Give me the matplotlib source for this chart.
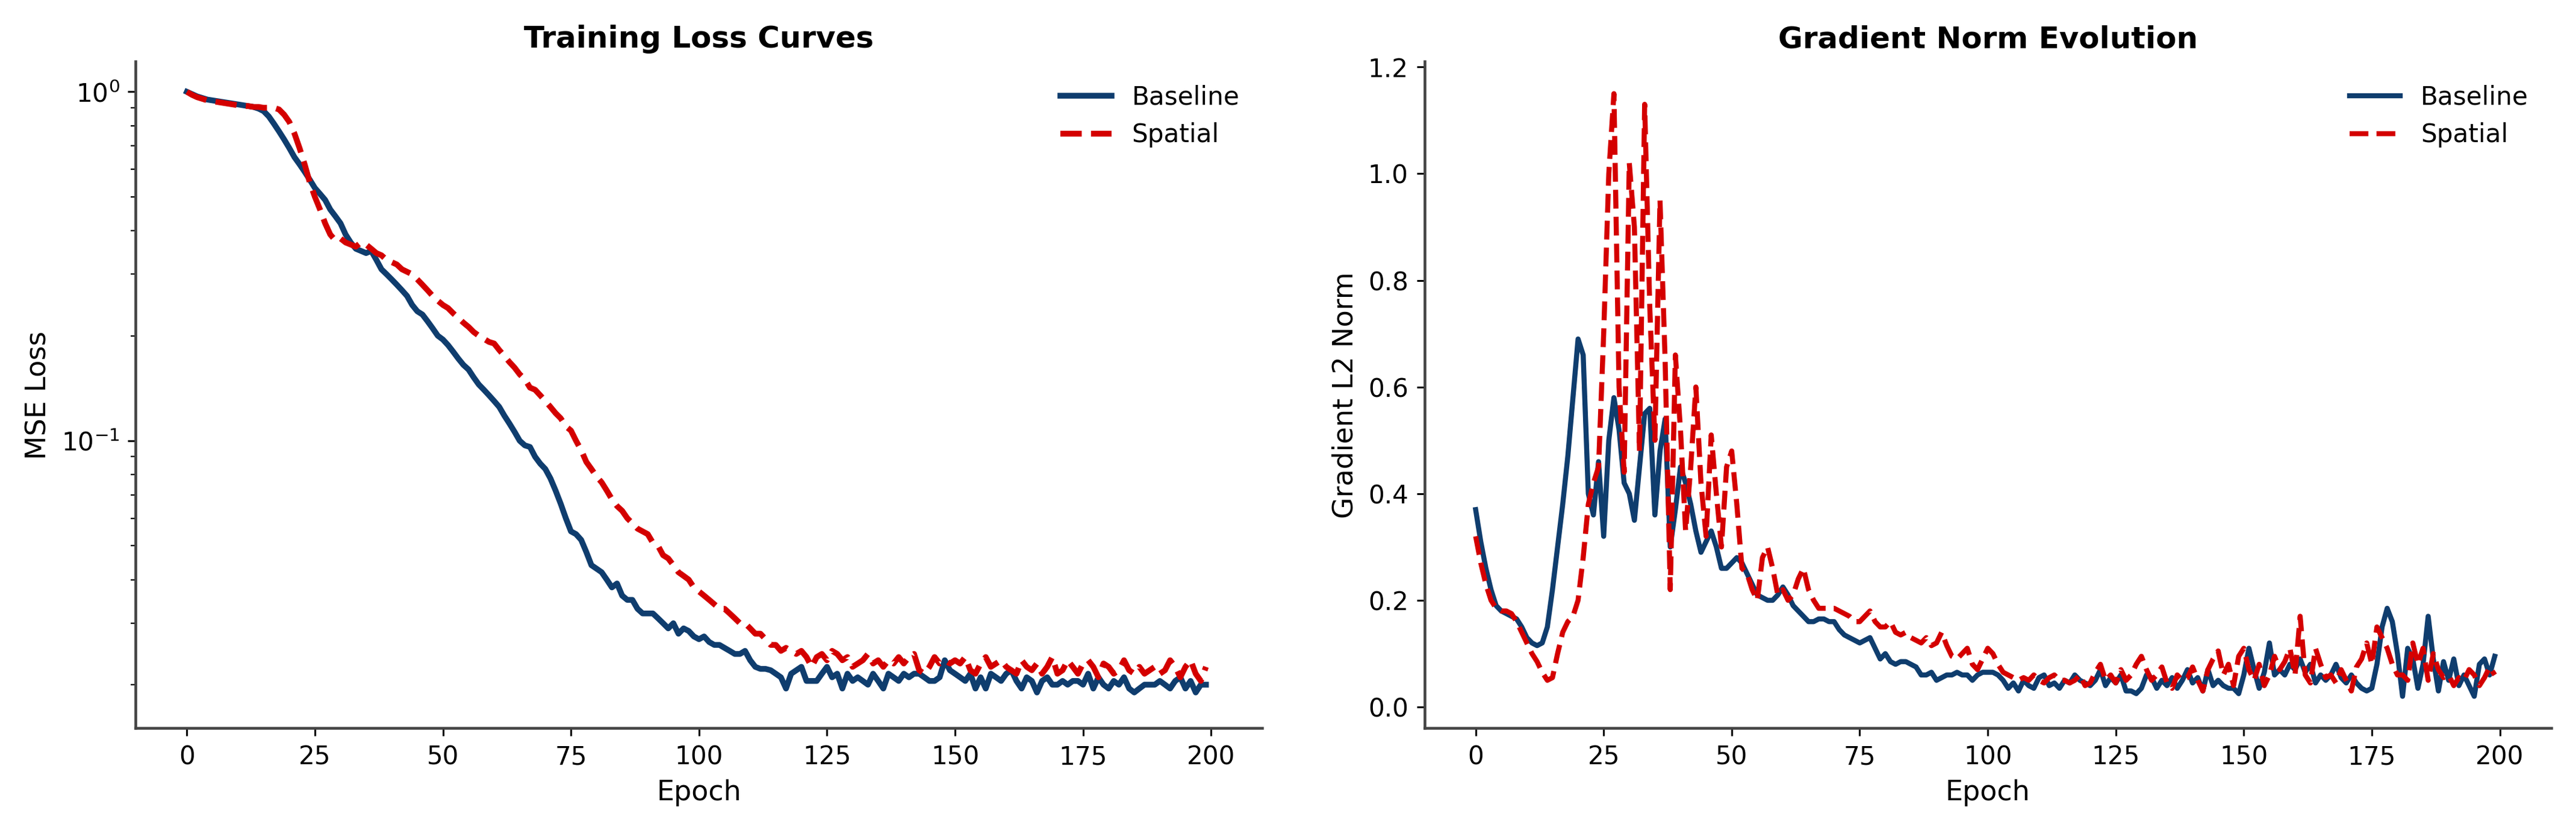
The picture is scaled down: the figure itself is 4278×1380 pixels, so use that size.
import numpy as np
import matplotlib
matplotlib.use("Agg")
import matplotlib.pyplot as plt

epochs = np.arange(200)

# training loss
loss_baseline = [
    1.00, 0.985, 0.97, 0.96, 0.95, 0.945, 0.94, 0.935, 0.93, 0.925,
    0.92, 0.915, 0.91, 0.905, 0.895, 0.88, 0.85, 0.81, 0.77, 0.73,
    0.69, 0.65, 0.62, 0.59, 0.56, 0.53, 0.51, 0.49, 0.46, 0.44,
    0.42, 0.39, 0.37, 0.355, 0.35, 0.345, 0.35, 0.33, 0.31, 0.30,
    0.29, 0.28, 0.27, 0.26, 0.245, 0.235, 0.23, 0.22, 0.21, 0.20,
    0.195, 0.188, 0.18, 0.172, 0.165, 0.16, 0.152, 0.145, 0.14, 0.135,
    0.13, 0.125, 0.118, 0.112, 0.106, 0.10, 0.097, 0.096, 0.09, 0.086,
    0.083, 0.078, 0.072, 0.066, 0.06, 0.055, 0.054, 0.052, 0.048, 0.044,
    0.043, 0.042, 0.040, 0.038, 0.039, 0.036, 0.035, 0.035, 0.033, 0.032,
    0.032, 0.032, 0.031, 0.030, 0.029, 0.030, 0.028, 0.029, 0.0285, 0.0275,
    0.027, 0.0275, 0.0265, 0.026, 0.026, 0.0255, 0.025, 0.0245, 0.0245, 0.025,
    0.0235, 0.0225, 0.0222, 0.0222, 0.022, 0.0215, 0.021, 0.0195, 0.0215, 0.022,
    0.0225, 0.0205, 0.0205, 0.0205, 0.0215, 0.0225, 0.021, 0.0215, 0.0195, 0.0215,
    0.0205, 0.021, 0.0205, 0.02, 0.0215, 0.0205, 0.0195, 0.0215, 0.021, 0.0205,
    0.0215, 0.021, 0.0215, 0.0215, 0.021, 0.0205, 0.0205, 0.021, 0.0235, 0.022,
    0.0215, 0.021, 0.0205, 0.0215, 0.0195, 0.021, 0.0195, 0.0215, 0.021, 0.0205,
    0.0215, 0.022, 0.0205, 0.0195, 0.021, 0.0205, 0.019, 0.0205, 0.021, 0.02,
    0.02, 0.0205, 0.02, 0.0205, 0.0205, 0.02, 0.0215, 0.0195, 0.021, 0.02,
    0.0195, 0.0205, 0.02, 0.021, 0.0195, 0.019, 0.0195, 0.02, 0.02, 0.02,
    0.0205, 0.02, 0.0195, 0.0205, 0.021, 0.0195, 0.0205, 0.019, 0.02, 0.02,
]
loss_spatial = [
    1.00, 0.98, 0.965, 0.955, 0.945, 0.94, 0.935, 0.93, 0.925, 0.92,
    0.915, 0.912, 0.91, 0.905, 0.905, 0.9, 0.9, 0.9, 0.89, 0.86,
    0.82, 0.76, 0.69, 0.62, 0.55, 0.50, 0.46, 0.42, 0.39, 0.375,
    0.38, 0.37, 0.365, 0.36, 0.37, 0.365, 0.355, 0.345, 0.34, 0.33,
    0.325, 0.32, 0.31, 0.305, 0.30, 0.29, 0.28, 0.27, 0.26, 0.252,
    0.245, 0.24, 0.232, 0.225, 0.218, 0.212, 0.205, 0.20, 0.196, 0.192,
    0.19, 0.182, 0.175, 0.168, 0.162, 0.155, 0.15, 0.142, 0.14, 0.135,
    0.13, 0.125, 0.12, 0.116, 0.11, 0.107, 0.10, 0.094, 0.087, 0.083,
    0.079, 0.076, 0.072, 0.068, 0.065, 0.063, 0.06, 0.058, 0.056, 0.055,
    0.054, 0.051, 0.05, 0.047, 0.046, 0.044, 0.042, 0.041, 0.04, 0.038,
    0.037, 0.036, 0.035, 0.034, 0.033, 0.033, 0.032, 0.031, 0.030, 0.030,
    0.029, 0.028, 0.028, 0.027, 0.026, 0.026, 0.025, 0.0255, 0.025, 0.0245,
    0.025, 0.024, 0.0225, 0.024, 0.0245, 0.0235, 0.025, 0.0245, 0.0235, 0.024,
    0.0225, 0.023, 0.0235, 0.0245, 0.023, 0.0235, 0.0225, 0.0235, 0.023, 0.024,
    0.023, 0.024, 0.0245, 0.022, 0.0215, 0.0225, 0.024, 0.023, 0.0235, 0.023,
    0.0235, 0.023, 0.024, 0.022, 0.0215, 0.023, 0.024, 0.0225, 0.023, 0.0235,
    0.0225, 0.022, 0.0215, 0.0235, 0.0225, 0.022, 0.023, 0.0215, 0.0225, 0.024,
    0.0215, 0.022, 0.0235, 0.0225, 0.0215, 0.023, 0.0235, 0.0225, 0.021, 0.023,
    0.0225, 0.0215, 0.022, 0.0235, 0.022, 0.0215, 0.0225, 0.0215, 0.022, 0.0225,
    0.0215, 0.022, 0.0235, 0.0225, 0.021, 0.0225, 0.0235, 0.0215, 0.0205, 0.0225,
]

# gradient L2 norm
grad_baseline = [
    0.37, 0.31, 0.26, 0.22, 0.19, 0.18, 0.175, 0.17, 0.165, 0.15,
    0.13, 0.12, 0.115, 0.12, 0.15, 0.22, 0.30, 0.38, 0.47, 0.58,
    0.69, 0.66, 0.40, 0.36, 0.46, 0.32, 0.50, 0.58, 0.52, 0.42,
    0.40, 0.35, 0.45, 0.55, 0.56, 0.36, 0.48, 0.54, 0.30, 0.37,
    0.45, 0.42, 0.38, 0.33, 0.29, 0.31, 0.33, 0.30, 0.26, 0.26,
    0.27, 0.28, 0.27, 0.25, 0.23, 0.21, 0.205, 0.20, 0.20, 0.21,
    0.225, 0.21, 0.19, 0.18, 0.17, 0.16, 0.16, 0.165, 0.165, 0.16,
    0.16, 0.145, 0.135, 0.13, 0.125, 0.12, 0.125, 0.13, 0.11, 0.09,
    0.10, 0.085, 0.08, 0.085, 0.085, 0.08, 0.075, 0.06, 0.06, 0.065,
    0.05, 0.055, 0.06, 0.06, 0.065, 0.06, 0.06, 0.05, 0.06, 0.065,
    0.065, 0.065, 0.06, 0.05, 0.035, 0.045, 0.03, 0.05, 0.04, 0.035,
    0.055, 0.06, 0.04, 0.045, 0.035, 0.05, 0.045, 0.06, 0.05, 0.045,
    0.04, 0.05, 0.07, 0.04, 0.055, 0.045, 0.06, 0.03, 0.03, 0.025,
    0.035, 0.06, 0.055, 0.035, 0.05, 0.04, 0.055, 0.035, 0.05, 0.07,
    0.045, 0.055, 0.03, 0.07, 0.04, 0.05, 0.04, 0.035, 0.035, 0.025,
    0.06, 0.11, 0.07, 0.035, 0.065, 0.12, 0.06, 0.07, 0.06, 0.08,
    0.07, 0.09, 0.065, 0.08, 0.045, 0.06, 0.05, 0.06, 0.08, 0.055,
    0.045, 0.06, 0.045, 0.035, 0.03, 0.035, 0.08, 0.15, 0.185, 0.16,
    0.10, 0.02, 0.11, 0.09, 0.035, 0.08, 0.17, 0.09, 0.03, 0.085,
    0.05, 0.09, 0.04, 0.06, 0.04, 0.02, 0.08, 0.09, 0.06, 0.095,
]
grad_spatial = [
    0.32, 0.27, 0.23, 0.20, 0.185, 0.18, 0.18, 0.175, 0.16, 0.14,
    0.12, 0.10, 0.085, 0.065, 0.05, 0.055, 0.10, 0.14, 0.16, 0.17,
    0.20, 0.28, 0.38, 0.42, 0.45, 0.70, 1.00, 1.15, 0.60, 0.44,
    1.02, 0.90, 0.48, 1.13, 0.75, 0.50, 0.95, 0.65, 0.22, 0.66,
    0.52, 0.33, 0.45, 0.60, 0.42, 0.32, 0.51, 0.40, 0.30, 0.45,
    0.48, 0.38, 0.26, 0.25, 0.22, 0.20, 0.28, 0.30, 0.26, 0.21,
    0.22, 0.20, 0.21, 0.24, 0.26, 0.22, 0.20, 0.185, 0.185, 0.185,
    0.185, 0.18, 0.175, 0.17, 0.16, 0.16, 0.17, 0.18, 0.16, 0.15,
    0.15, 0.16, 0.14, 0.135, 0.14, 0.13, 0.125, 0.12, 0.13, 0.115,
    0.12, 0.14, 0.115, 0.095, 0.09, 0.10, 0.11, 0.08, 0.07, 0.09,
    0.11, 0.10, 0.08, 0.065, 0.06, 0.055, 0.05, 0.055, 0.05, 0.06,
    0.05, 0.045, 0.055, 0.06, 0.05, 0.05, 0.045, 0.05, 0.06, 0.04,
    0.045, 0.065, 0.08, 0.05, 0.06, 0.045, 0.07, 0.05, 0.06, 0.08,
    0.095, 0.07, 0.05, 0.06, 0.075, 0.045, 0.035, 0.06, 0.05, 0.055,
    0.075, 0.05, 0.03, 0.07, 0.09, 0.105, 0.06, 0.08, 0.04, 0.095,
    0.11, 0.07, 0.05, 0.08, 0.04, 0.06, 0.095, 0.07, 0.085, 0.11,
    0.06, 0.17, 0.06, 0.045, 0.11, 0.08, 0.055, 0.06, 0.045, 0.07,
    0.05, 0.03, 0.075, 0.09, 0.12, 0.08, 0.15, 0.13, 0.11, 0.08,
    0.06, 0.06, 0.05, 0.12, 0.08, 0.11, 0.05, 0.10, 0.07, 0.055,
    0.06, 0.04, 0.055, 0.05, 0.07, 0.06, 0.04, 0.055, 0.075, 0.06,
]

c_base = "#0f3d6e"
c_spat = "#d40000"

plt.rcParams["font.family"] = ["DejaVu Sans"]
fig, (ax1, ax2) = plt.subplots(1, 2, figsize=(15.5, 5.0), dpi=276)

ax1.plot(epochs, loss_baseline, color=c_base, lw=2.5, label="Baseline")
ax1.plot(epochs, loss_spatial, color=c_spat, lw=2.5, ls="--", label="Spatial")
ax1.set_yscale("log")
ax1.set_ylim(0.015, 1.22)
ax1.set_title("Training Loss Curves", fontsize=13, fontweight="bold")
ax1.set_xlabel("Epoch", fontsize=12)
ax1.set_ylabel("MSE Loss", fontsize=12)

ax2.plot(epochs, grad_baseline, color=c_base, lw=2.2, label="Baseline")
ax2.plot(epochs, grad_spatial, color=c_spat, lw=2.2, ls="--", label="Spatial")
ax2.set_ylim(-0.04, 1.21)
ax2.set_title("Gradient Norm Evolution", fontsize=13, fontweight="bold")
ax2.set_xlabel("Epoch", fontsize=12)
ax2.set_ylabel("Gradient L2 Norm", fontsize=12)

for ax in (ax1, ax2):
    ax.set_xlim(-10, 210)
    ax.set_xticks([0, 25, 50, 75, 100, 125, 150, 175, 200])
    ax.spines["top"].set_visible(False)
    ax.spines["right"].set_visible(False)
    ax.spines["left"].set_color("#444444")
    ax.spines["bottom"].set_color("#444444")
    ax.spines["left"].set_linewidth(1.2)
    ax.spines["bottom"].set_linewidth(1.2)
    ax.tick_params(labelsize=11)
    ax.legend(frameon=False, fontsize=11)

plt.tight_layout(w_pad=3)
plt.savefig("out.png")
